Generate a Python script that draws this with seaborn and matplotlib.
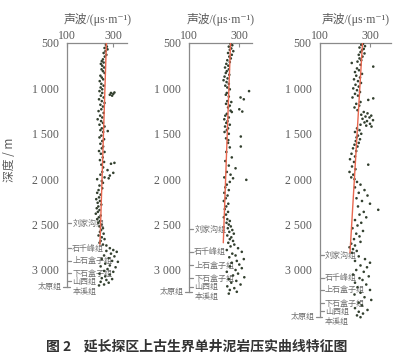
import matplotlib
matplotlib.use('Agg')
import matplotlib.pyplot as plt
import matplotlib.transforms as mtransforms
import pandas as pd
import seaborn as sns

# ---------------- data ----------------
p1_depth = [520, 540, 555, 570, 590, 610, 630, 650, 680, 700,
            715, 730, 750, 770, 790, 810, 830, 860, 880, 900,
            920, 950, 970, 990, 1010, 1045, 1050, 1060, 1070, 1080,
            1030, 1050, 1080, 1100, 1120, 1140, 1160, 1180, 1200, 1230,
            1250, 1270, 1300, 1320, 1340, 1360, 1380, 1400, 1420, 1440,
            1460, 1470, 1480, 1520, 1540, 1560, 1580, 1610, 1640, 1660,
            1690, 1700, 1720, 1760, 1790, 1810, 1830, 1820, 1840, 1870,
            1900, 1920, 1950, 1960, 1930, 1980, 2000, 1990, 2020, 2040,
            2070, 2100, 2120, 2150, 2170, 2200, 2220, 2240, 2260, 2280,
            2300, 2320, 2340, 2360, 2380, 2400, 2420, 2440, 2460, 2480,
            2500, 2520, 2540, 2560, 2580, 2600, 2620, 2640, 2660, 2680,
            2700, 2720, 2730, 2760, 2780, 2790, 2800, 2820, 2840, 2850,
            2870, 2880, 2900, 2910, 2930, 2950, 2960, 2970, 2990, 3010,
            3020, 3040, 3050, 3070, 3090, 3100, 3110, 3130, 3140, 3160,
            3170]
p1_sonic = [268, 272, 262, 275, 266, 258, 270, 263, 255, 250,
            258, 246, 252, 260, 249, 255, 262, 244, 250, 256,
            241, 248, 258, 245, 252, 305, 290, 300, 285, 295,
            240, 252, 246, 258, 238, 250, 262, 244, 255, 248,
            236, 258, 243, 252, 232, 247, 255, 240, 262, 250,
            244, 276, 256, 248, 240, 260, 252, 244, 256, 250,
            238, 262, 246, 254, 242, 260, 290, 305, 248, 256,
            275, 252, 244, 285, 300, 262, 230, 280, 250, 255,
            240, 252, 236, 230, 245, 238, 226, 242, 232, 248,
            235, 228, 240, 233, 224, 245, 237, 230, 242, 235,
            248, 240, 255, 247, 242, 258, 236, 250, 262, 245,
            240, 255, 270, 285, 300, 270, 315, 290, 260, 305,
            280, 250, 295, 320, 265, 285, 245, 310, 275, 260,
            300, 240, 285, 265, 250, 295, 270, 245, 280, 260,
            238]

p2_depth = [510, 525, 540, 560, 575, 590, 610, 630, 650, 670,
            690, 710, 730, 750, 770, 790, 810, 830, 850, 870,
            890, 910, 930, 950, 970, 990, 1010, 1030, 1050, 1070,
            1090, 1100, 1120, 1140, 1150, 1170, 1190, 1210, 1230, 1245,
            1255, 1260, 1280, 1300, 1320, 1340, 1360, 1380, 1400, 1420,
            1440, 1460, 1480, 1500, 1530, 1550, 1570, 1600, 1640, 1650,
            1700, 1760, 1800, 1850, 1880, 1920, 1950, 1980, 1990, 2007,
            2030, 2060, 2090, 2120, 2150, 2180, 2210, 2240, 2270, 2300,
            2330, 2360, 2390, 2420, 2440, 2460, 2480, 2500, 2520, 2540,
            2560, 2580, 2600, 2620, 2640, 2660, 2680, 2700, 2720, 2740,
            2760, 2780, 2800, 2820, 2840, 2860, 2880, 2900, 2920, 2940,
            2960, 2980, 3000, 3020, 3040, 3060, 3080, 3100, 3120, 3140,
            3160, 3180, 3200, 3220, 3240, 3260]
p2_sonic = [265, 272, 258, 268, 262, 276, 255, 270, 260, 266,
            252, 262, 248, 256, 243, 258, 250, 246, 260, 241,
            253, 237, 249, 258, 244, 252, 262, 339, 250, 246,
            258, 305, 318, 252, 268, 247, 262, 255, 300, 265,
            312, 270, 250, 244, 258, 240, 253, 248, 262, 243,
            255, 250, 241, 258, 306, 247, 256, 255, 306, 262,
            248, 270, 244, 258, 285, 250, 265, 240, 275, 328,
            262, 250, 244, 258, 240, 253, 246, 238, 256, 248,
            242, 255, 247, 238, 252, 262, 249, 258, 266, 254,
            272, 260, 278, 252, 268, 262, 275, 256, 280, 265,
            295, 250, 310, 272, 285, 260, 318, 290, 270, 300,
            262, 310, 285, 250, 295, 275, 320, 258, 288, 268,
            305, 252, 280, 262, 290, 258]

p3_depth = [510, 520, 535, 550, 565, 580, 600, 615, 630, 650,
            670, 690, 705, 720, 740, 760, 780, 800, 820, 840,
            860, 880, 900, 920, 940, 960, 980, 1000, 1020, 1040,
            1060, 1080, 1100, 1110, 1127, 1150, 1170, 1190, 1210, 1240,
            1260, 1275, 1290, 1300, 1310, 1320, 1335, 1350, 1360, 1375,
            1390, 1400, 1410, 1420, 1440, 1460, 1480, 1500, 1520, 1540,
            1560, 1580, 1600, 1620, 1640, 1660, 1690, 1720, 1750, 1780,
            1810, 1840, 1860, 1890, 1920, 1950, 1980, 2000, 2030, 2060,
            2090, 2120, 2150, 2180, 2210, 2240, 2270, 2300, 2337, 2360,
            2390, 2420, 2450, 2480, 2510, 2540, 2570, 2600, 2630, 2660,
            2690, 2710, 2730, 2750, 2770, 2790, 2810, 2850, 2880, 2900,
            2920, 2950, 2970, 3000, 3020, 3050, 3070, 3090, 3110, 3140,
            3160, 3190, 3220, 3250, 3270, 3300, 3330, 3360, 3390, 3420,
            3440, 3460, 3480, 3500, 3520]
p3_sonic = [272, 265, 280, 258, 275, 268, 262, 278, 255, 270,
            258, 265, 250, 227, 262, 313, 248, 256, 240, 268,
            245, 260, 236, 252, 264, 242, 255, 233, 248, 260,
            240, 252, 230, 313, 293, 262, 245, 257, 238, 250,
            275, 290, 265, 305, 282, 298, 270, 312, 288, 278,
            300, 262, 285, 306, 248, 258, 240, 265, 252, 246,
            260, 243, 255, 238, 250, 232, 245, 226, 240, 220,
            236, 293, 228, 242, 218, 233, 225, 238, 248, 262,
            240, 278, 255, 290, 246, 268, 300, 252, 333, 275,
            258, 285, 240, 265, 250, 230, 272, 245, 258, 236,
            262, 225, 240, 218, 232, 247, 228, 255, 280, 240,
            300, 262, 288, 245, 275, 232, 295, 258, 270, 240,
            285, 250, 300, 262, 238, 278, 305, 255, 268, 240,
            290, 255, 272, 248, 262]

p1_trend_depth = [500, 2720]
p1_trend_sonic = [270, 242]
p2_trend_depth = [500, 2700]
p2_trend_sonic = [265, 236]
p3_trend_depth = [500, 2810]
p3_trend_sonic = [270, 220]

formations = ['刘家沟组', '石千峰组', '上石盒子组', '下石盒子组', '山西组', '太原组', '本溪组']
p1_form_depth = [2484, 2760, 2900, 3035, 3125, 3187, 3235]
p2_form_depth = [2552, 2798, 2945, 3092, 3185, 3239, 3294]
p3_form_depth = [2835, 3085, 3220, 3365, 3455, 3515, 3565]

depth_ticks = [500, 1000, 1500, 2000, 2500, 3000]
depth_tick_labels = ['500', '1 000', '1 500', '2 000', '2 500', '3 000']
sonic_ticks = [100, 300]
sonic_tick_labels = ['100', '300']

xlabel = '声波/(μs·m⁻¹)'
ylabel = '深度 / m'
caption = '图 2    延长探区上古生界单井泥岩压实曲线特征图'

# ---------------- style ----------------
sns.set_theme(style='white')
plt.rcParams['font.family'] = ['Liberation Serif', 'Noto Sans CJK SC', 'DejaVu Sans']

W, H = 400, 364
fig = plt.figure(figsize=(W / 100, H / 100), dpi=100)

axis_col = '#8a8a8a'
text_col = '#5a5a5a'
dot_col = '#33402f'
line_col = '#e8674f'

y_top_px = 43
px_per_500 = 45.4
y_bottom_val = 3650
ax_h_px = (y_bottom_val - 500) / 500 * px_per_500

panels = [
    dict(depth=p1_depth, sonic=p1_sonic, td=p1_trend_depth, ts=p1_trend_sonic,
         fd=p1_form_depth, left=67.3, xmax=360, ppu=1 / 4.35),
    dict(depth=p2_depth, sonic=p2_sonic, td=p2_trend_depth, ts=p2_trend_sonic,
         fd=p2_form_depth, left=189.3, xmax=350, ppu=1 / 4.0),
    dict(depth=p3_depth, sonic=p3_sonic, td=p3_trend_depth, ts=p3_trend_sonic,
         fd=p3_form_depth, left=320.0, xmax=385, ppu=1 / 4.0),
]

for i, p in enumerate(panels):
    w_px = (p['xmax'] - 100) * p['ppu']
    ax = fig.add_axes([p['left'] / W, (H - y_top_px - ax_h_px) / H, w_px / W, ax_h_px / H])
    ax.patch.set_alpha(0)

    df = pd.DataFrame({'sonic': p['sonic'], 'depth': p['depth']})
    sns.scatterplot(data=df, x='sonic', y='depth', ax=ax, s=3.5, color=dot_col,
                    edgecolor='none', linewidth=0, zorder=3)
    tdf = pd.DataFrame({'sonic': p['ts'], 'depth': p['td']})
    sns.lineplot(data=tdf, x='sonic', y='depth', ax=ax, color=line_col, lw=1.0,
                 sort=False, estimator=None, zorder=4)

    ax.set_xlim(100, p['xmax'])
    ax.set_ylim(y_bottom_val, 500)

    for s in ['right', 'bottom']:
        ax.spines[s].set_visible(False)
    for s in ['left', 'top']:
        ax.spines[s].set_color(axis_col)
        ax.spines[s].set_linewidth(0.9)
    ax.spines['left'].set_bounds(500, p['fd'][5])

    ax.xaxis.tick_top()
    ax.xaxis.set_label_position('top')
    ax.set_xticks(sonic_ticks)
    ax.set_xticklabels(sonic_tick_labels)
    ax.set_xlabel(xlabel, fontsize=8.5, color=text_col, labelpad=5,
                  family=['Liberation Serif', 'Noto Sans CJK SC', 'DejaVu Sans'])
    ax.set_yticks(depth_ticks)
    ax.set_yticklabels(depth_tick_labels)
    ax.set_ylabel('')
    ax.tick_params(axis='y', direction='out', length=3, width=0.8, color=axis_col,
                   labelsize=8.5, labelcolor=text_col, pad=3)
    ax.tick_params(axis='x', direction='in', length=3, width=0.8, color=axis_col,
                   labelsize=8.5, labelcolor=text_col, pad=1)

    trans = mtransforms.blended_transform_factory(ax.transAxes, ax.transData)
    dash = 4.0 / w_px
    for j, (name, d) in enumerate(zip(formations, p['fd'])):
        kw = dict(transform=trans, va='center', fontsize=5.8, color='#707070',
                  family=['Noto Sans CJK SC'], zorder=2)
        if name == '太原组':
            ax.plot([-dash, dash * 0.6], [d, d], transform=trans, color=axis_col,
                    lw=0.9, clip_on=False, zorder=2)
            ax.text(-dash - 1.5 / w_px, d, name, ha='right', **kw)
        elif name == '本溪组':
            ax.text(dash + 1.0 / w_px, d, name, ha='left', **kw)
        else:
            ax.plot([0, dash], [d, d], transform=trans, color=axis_col,
                    lw=0.9, clip_on=False, zorder=2)
            ax.text(dash + 1.0 / w_px, d, name, ha='left', **kw)

fig.text(10 / W, 1 - 160 / H, ylabel, rotation=90, ha='center', va='center',
         fontsize=8.5, color=text_col, family=['Noto Sans CJK SC', 'DejaVu Sans'])
fig.text(197 / W, 1 - 347 / H, caption, ha='center', va='center', fontsize=10,
         color='#333333', fontweight='bold', family=['Noto Sans CJK SC', 'DejaVu Sans'])

fig.savefig('out.png', dpi=100)
